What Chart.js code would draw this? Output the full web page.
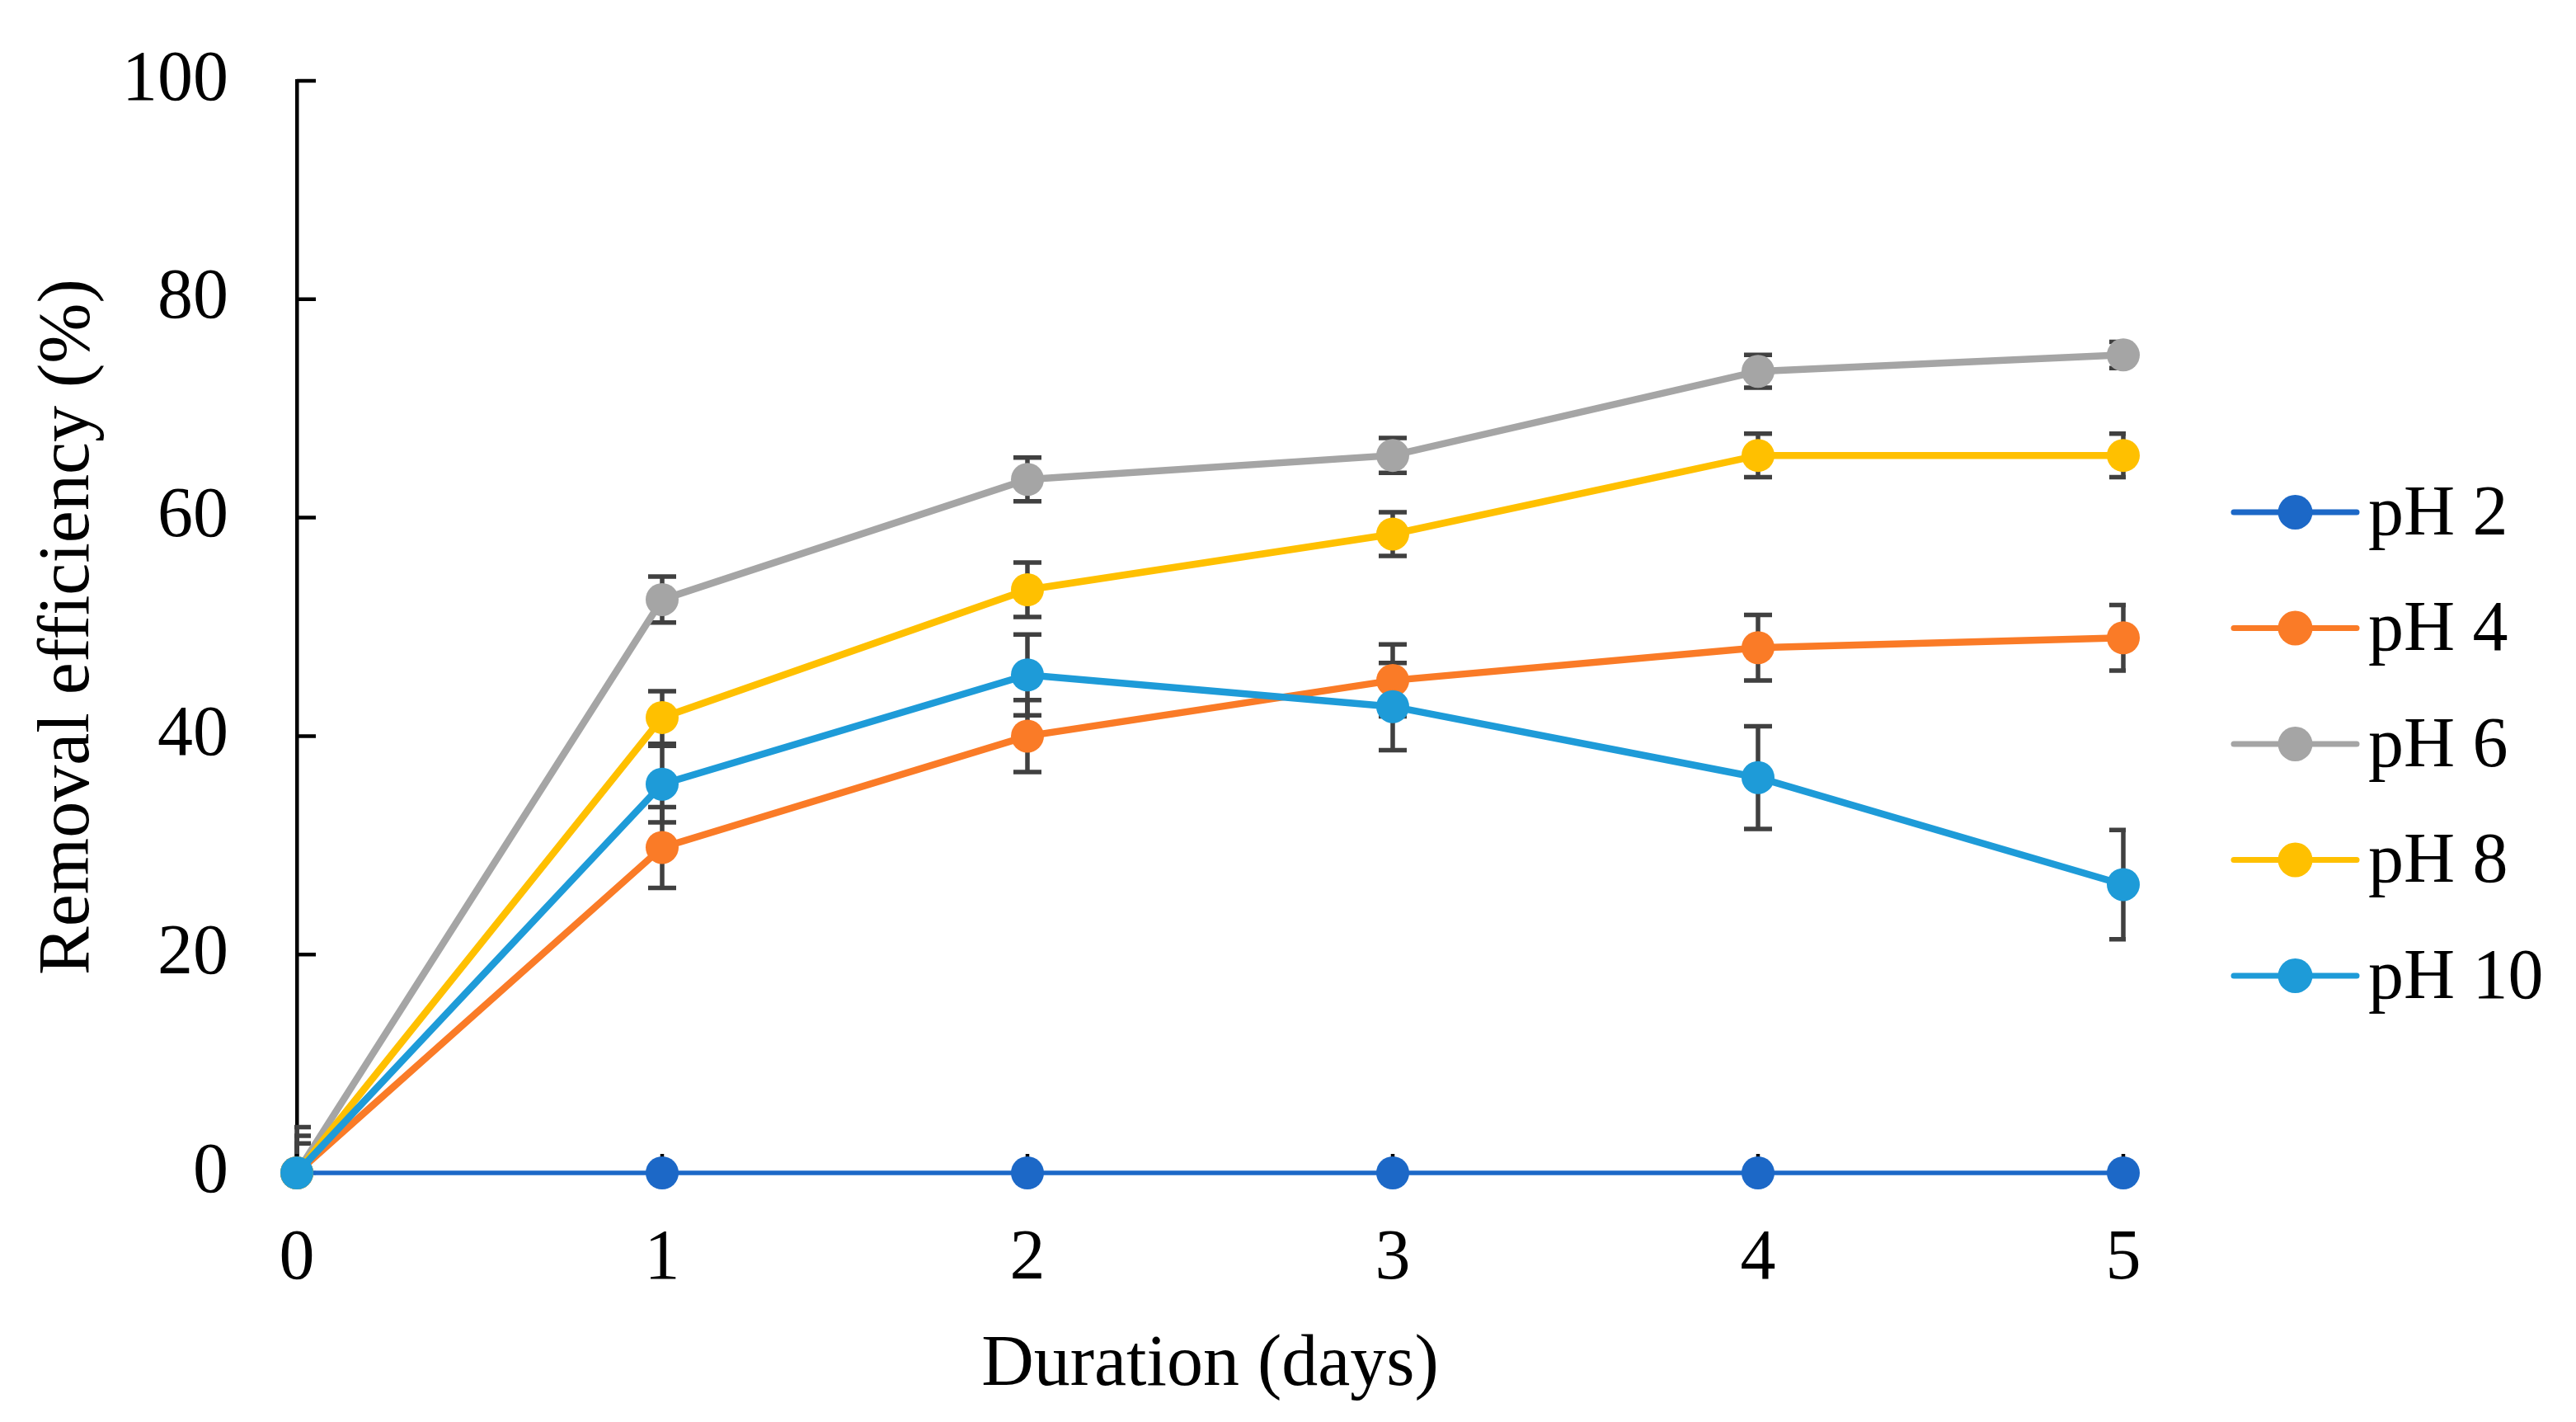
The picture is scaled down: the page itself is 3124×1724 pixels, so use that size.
<!DOCTYPE html>
<html>
<head>
<meta charset="utf-8">
<title>Removal efficiency vs duration</title>
<script src="https://cdn.jsdelivr.net/npm/chart.js@4.4.1/dist/chart.umd.min.js"></script>
<style>
  html, body { margin: 0; padding: 0; background: #fff; }
  #chart { display: block; }
</style>
</head>
<body>
<canvas id="chart" width="3124" height="1724"></canvas>
<script>
// Data
const days = ['0', '1', '2', '3', '4', '5'];

const ph2 = [0, 0, 0, 0, 0, 0];
const ph4 = [0, 29.8, 40.0, 45.1, 48.1, 49.0];
const ph6 = [0, 52.5, 63.5, 65.7, 73.4, 74.9];
const ph8 = [0, 41.7, 53.4, 58.5, 65.7, 65.7];
const ph10 = [0, 35.6, 45.6, 42.7, 36.2, 26.4];

// error bar half-lengths (+/-)
const ph2Err = [0, 0, 0, 0, 0, 0];
const ph4Err = [0, 3.7, 3.3, 3.3, 3.0, 3.0];
const ph6Err = [4.2, 2.1, 2.0, 1.6, 1.5, 1.2];
const ph8Err = [3.4, 2.4, 2.5, 2.0, 2.0, 2.0];
const ph10Err = [2.7, 3.5, 3.7, 4.0, 4.7, 5.0];

const yTicks = [0, 20, 40, 60, 80, 100];

const FONT = "'Liberation Serif', 'Times New Roman', serif";

function series(label, data, err, color, width, order) {
    return {
        label: label,
        data: data,
        errors: err,
        borderColor: color,
        backgroundColor: color,
        pointBackgroundColor: color,
        pointBorderColor: color,
        borderWidth: width,
        pointRadius: 20,
        pointHoverRadius: 20,
        pointBorderWidth: 0,
        tension: 0,
        clip: false,
        order: order
    };
}

// error bars, drawn under the lines and clipped to the plot area like Excel does
const errorBars = {
    id: 'errorBars',
    beforeDatasetsDraw(chart) {
        const ctx = chart.ctx;
        const area = chart.chartArea;
        const x = chart.scales.x;
        const y = chart.scales.y;
        ctx.save();
        ctx.beginPath();
        ctx.rect(area.left - 3, area.top - 120, area.right - area.left + 6, area.bottom - area.top + 120);
        ctx.clip();
        ctx.strokeStyle = '#404040';
        ctx.lineWidth = 5.5;
        chart.data.datasets.forEach(ds => {
            ds.data.forEach((v, i) => {
                const e = ds.errors[i];
                if (!e) return;
                const px = x.getPixelForValue(i);
                const top = y.getPixelForValue(v + e);
                const bot = y.getPixelForValue(v - e);
                ctx.beginPath();
                ctx.moveTo(px, top);
                ctx.lineTo(px, bot);
                ctx.moveTo(px - 17, top);
                ctx.lineTo(px + 17, top);
                ctx.moveTo(px - 17, bot);
                ctx.lineTo(px + 17, bot);
                ctx.stroke();
            });
        });
        ctx.restore();

        // inward tick marks on both axes
        ctx.save();
        ctx.strokeStyle = '#000';
        ctx.lineWidth = 4.5;
        ctx.beginPath();
        yTicks.forEach(t => {
            const py = y.getPixelForValue(t);
            ctx.moveTo(area.left, py);
            ctx.lineTo(area.left + 23, py);
        });
        days.forEach((d, i) => {
            const px = x.getPixelForValue(i);
            ctx.moveTo(px, area.bottom);
            ctx.lineTo(px, area.bottom - 23);
        });
        ctx.stroke();
        ctx.restore();
    }
};

// legend on the right: line with marker, then label
const lineLegend = {
    id: 'lineLegend',
    afterDraw(chart) {
        const ctx = chart.ctx;
        const x0 = 2709, x1 = 2858, tx = 2872;
        const y0 = 621, step = 140.5;
        ctx.save();
        chart.data.datasets.forEach((ds, i) => {
            const yy = y0 + i * step;
            ctx.strokeStyle = ds.borderColor;
            ctx.lineWidth = 7;
            ctx.lineCap = 'round';
            ctx.beginPath();
            ctx.moveTo(x0, yy);
            ctx.lineTo(x1, yy);
            ctx.stroke();
            ctx.fillStyle = ds.borderColor;
            ctx.beginPath();
            ctx.arc((x0 + x1) / 2, yy, 21, 0, Math.PI * 2);
            ctx.fill();
            ctx.fillStyle = '#000';
            ctx.font = '86px ' + FONT;
            ctx.textAlign = 'left';
            ctx.textBaseline = 'middle';
            ctx.fillText(ds.label, tx, yy + 4);
        });
        ctx.restore();
    }
};

const ctx = document.getElementById('chart').getContext('2d');
new Chart(ctx, {
    type: 'line',
    data: {
        labels: days,
        datasets: [
            series('pH 2', ph2, ph2Err, '#1C68C7', 5.5, 5),
            series('pH 4', ph4, ph4Err, '#FA7B27', 8.5, 4),
            series('pH 6', ph6, ph6Err, '#A5A5A5', 8.5, 3),
            series('pH 8', ph8, ph8Err, '#FFC000', 8.5, 2),
            series('pH 10', ph10, ph10Err, '#1E9BD8', 8.5, 1)
        ]
    },
    options: {
        responsive: false,
        animation: false,
        devicePixelRatio: 1,
        layout: {
            padding: { top: 98, right: 549, left: 0, bottom: 0 }
        },
        plugins: {
            legend: { display: false },
            tooltip: { enabled: false }
        },
        scales: {
            x: {
                type: 'category',
                offset: false,
                afterFit: scale => { scale.height = 302; scale.paddingRight = 0; },
                grid: { display: true, drawOnChartArea: false, drawTicks: false },
                border: { display: true, color: '#000', width: 4 },
                ticks: {
                    color: '#000',
                    padding: 54,
                    font: { family: FONT, size: 86 }
                },
                title: {
                    display: true,
                    text: 'Duration (days)',
                    color: '#000',
                    font: { family: FONT, size: 88 },
                    padding: { top: 0, bottom: 15 }
                }
            },
            y: {
                min: 0,
                max: 100,
                // fixed axis width; drop the label overflow padding so the plot top sits at 100
                afterFit: scale => {
                    scale.width = 360;
                    scale.paddingTop = 0;
                    scale.paddingBottom = 0;
                },
                grid: { display: true, drawOnChartArea: false, drawTicks: false },
                border: { display: true, color: '#000', width: 4.5 },
                ticks: {
                    stepSize: 20,
                    color: '#000',
                    padding: 83,
                    font: { family: FONT, size: 86 }
                },
                title: {
                    display: true,
                    text: 'Removal efficiency (%)',
                    color: '#000',
                    font: { family: FONT, size: 88 },
                    padding: { top: 31, bottom: 0 }
                }
            }
        }
    },
    plugins: [errorBars, lineLegend]
});
</script>
</body>
</html>
